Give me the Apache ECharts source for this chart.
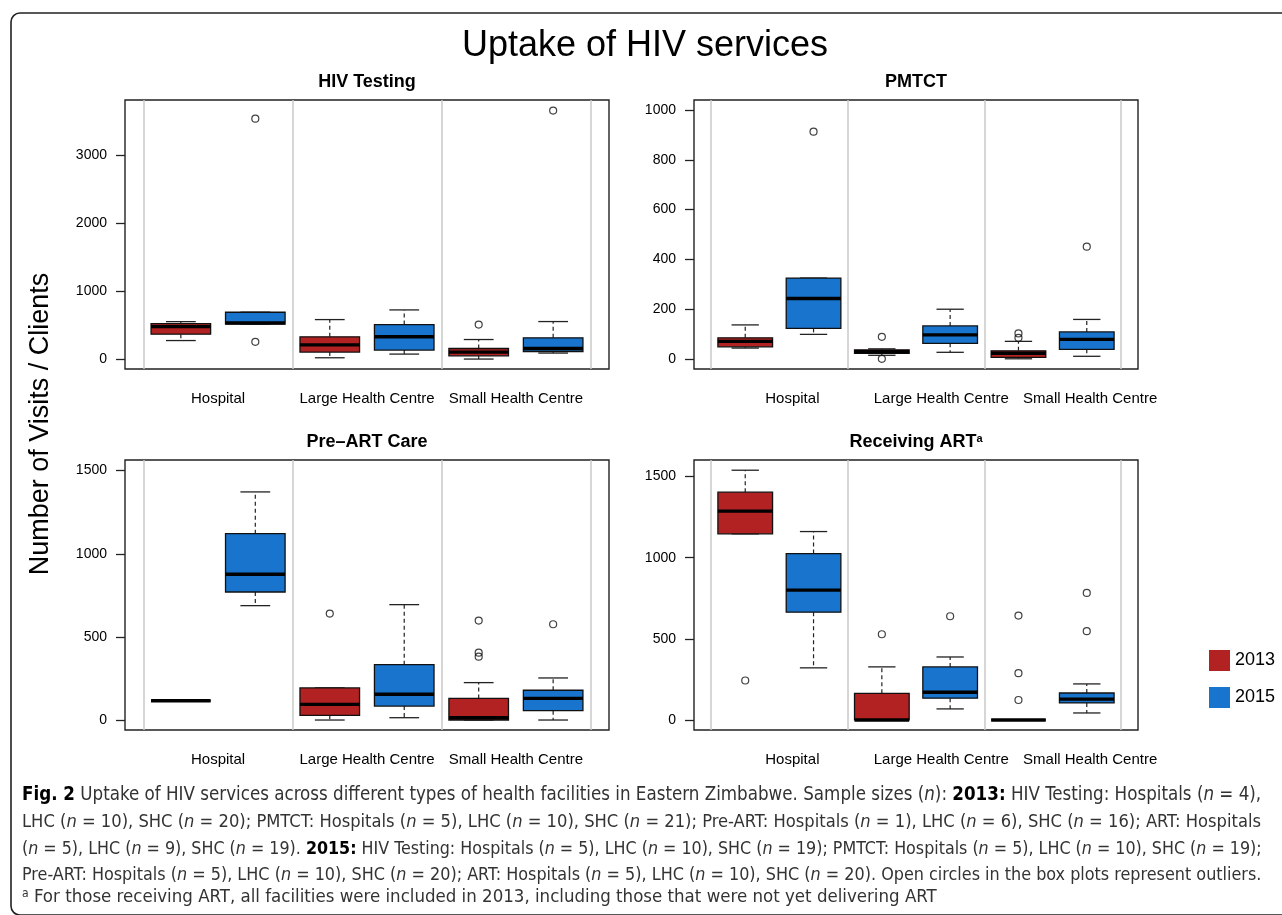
<!DOCTYPE html>
<html><head><meta charset="utf-8">
<script src="https://cdn.jsdelivr.net/npm/echarts@6/dist/echarts.min.js"></script>
<style>html,body{margin:0;padding:0;background:#fff}#c{width:1282px;height:915px}</style>
</head><body><div id="c"></div>
<script>
// ---------------- DATA ----------------
const facilities = ['Hospital', 'Large Health Centre', 'Small Health Centre'];
const years = ['2013', '2015'];
const panelTitles = ['HIV Testing', 'PMTCT', 'Pre\u2013ART Care', 'Receiving ART'];

// each box: [lower whisker, Q1, median, Q3, upper whisker], one per facility
const hivTesting2013 = [[272, 366, 477, 521, 550], [19, 102, 209, 327, 580], [0, 48, 102, 155, 287]];
const hivTesting2015 = [[512, 512, 531, 688, 688], [73, 132, 327, 507, 722], [88, 111, 155, 312, 551]];
const hivTestingOut2013 = [[], [], [507]];
const hivTestingOut2015 = [[3531, 253], [], [3650]];
const hivTestingTicks = [0, 1000, 2000, 3000];

const pmtct2013 = [[44, 49, 71, 85, 137], [15, 23, 29, 37, 41], [1, 7, 23, 33, 71]];
const pmtct2015 = [[99, 123, 243, 325, 325], [27, 63, 97, 133, 200], [11, 39, 79, 109, 159]];
const pmtctOut2013 = [[], [89, 1], [103, 85]];
const pmtctOut2015 = [[913], [], [451]];
const pmtctTicks = [0, 200, 400, 600, 800, 1000];

const preArt2013 = [[116, 116, 116, 116, 116], [0, 28, 94, 193, 193], [0, 0, 14, 130, 225]];
const preArt2015 = [[688, 770, 877, 1121, 1372], [14, 84, 155, 333, 694], [0, 56, 130, 179, 253]];
const preArtOut2013 = [[], [640], [598, 405, 381]];
const preArtOut2015 = [[], [], [576]];
const preArtTicks = [0, 500, 1000, 1500];

const art2013 = [[1147, 1147, 1287, 1404, 1539], [0, 0, 0, 164, 327], [0, 0, 0, 0, 0]];
const art2015 = [[321, 664, 800, 1025, 1161], [68, 134, 171, 327, 388], [43, 105, 128, 166, 222]];
const artOut2013 = [[243], [528], [643, 288, 123]];
const artOut2015 = [[], [639], [783, 547]];
const artTicks = [0, 500, 1000, 1500];

const captionLines = [
  '{b|Fig. 2} Uptake of HIV services across different types of health facilities in Eastern Zimbabwe. Sample sizes ({i|n}): {b|2013:} HIV Testing: Hospitals ({i|n} = 4),',
  'LHC ({i|n} = 10), SHC ({i|n} = 20); PMTCT: Hospitals ({i|n} = 5), LHC ({i|n} = 10), SHC ({i|n} = 21); Pre-ART: Hospitals ({i|n} = 1), LHC ({i|n} = 6), SHC ({i|n} = 16); ART: Hospitals',
  '({i|n} = 5), LHC ({i|n} = 9), SHC ({i|n} = 19). {b|2015:} HIV Testing: Hospitals ({i|n} = 5), LHC ({i|n} = 10), SHC ({i|n} = 19); PMTCT: Hospitals ({i|n} = 5), LHC ({i|n} = 10), SHC ({i|n} = 19);',
  'Pre-ART: Hospitals ({i|n} = 5), LHC ({i|n} = 10), SHC ({i|n} = 20); ART: Hospitals ({i|n} = 5), LHC ({i|n} = 10), SHC ({i|n} = 20). Open circles in the box plots represent outliers.',
  '{s|a} For those receiving ART, all facilities were included in 2013, including those that were not yet delivering ART'
];

// ---------------- STYLE / LAYOUT ----------------
const RED = '#B22222', BLUE = '#1874CD', INK = '#111';
const FONT = "'Liberation Sans', Arial, Helvetica, sans-serif";
const CAPFONT = "'Liberation Sans Narrow', 'DejaVu Sans Condensed', sans-serif";

const panels = [
  { title: panelTitles[0], sup: false, boxes: [hivTesting2013, hivTesting2015], outs: [hivTestingOut2013, hivTestingOut2015], ticks: hivTestingTicks,
    yMin: -146, yMax: 3806, grid: { left: 125, top: 100, width: 484, height: 269 }, labelPos: [1.5, 3.5, 5.5] },
  { title: panelTitles[1], sup: false, boxes: [pmtct2013, pmtct2015], outs: [pmtctOut2013, pmtctOut2015], ticks: pmtctTicks,
    yMin: -40, yMax: 1040, grid: { left: 694, top: 100, width: 444, height: 269 }, labelPos: [1.69, 3.87, 6.05] },
  { title: panelTitles[2], sup: false, boxes: [preArt2013, preArt2015], outs: [preArtOut2013, preArtOut2015], ticks: preArtTicks,
    yMin: -60, yMax: 1564, grid: { left: 125, top: 460, width: 484, height: 270 }, labelPos: [1.5, 3.5, 5.5] },
  { title: panelTitles[3], sup: true, boxes: [art2013, art2015], outs: [artOut2013, artOut2015], ticks: artTicks,
    yMin: -62, yMax: 1602, grid: { left: 694, top: 460, width: 444, height: 270 }, labelPos: [1.69, 3.87, 6.05] }
];
const yearColors = [RED, BLUE];

function makeRender(fill) {
  return function (params, api) {
    const x = api.value(0);
    const pts = [1, 2, 3, 4, 5].map(d => api.coord([x, api.value(d)]));
    const cx = pts[0][0];
    const w = api.size([0.8, 0])[0];
    const yLo = pts[0][1], yQ1 = pts[1][1], yMed = pts[2][1], yQ3 = pts[3][1], yHi = pts[4][1];
    const dash = { stroke: '#222', lineWidth: 1.2, lineDash: [4, 3] };
    const solid = { stroke: '#222', lineWidth: 1.3 };
    return { type: 'group', children: [
      { type: 'line', shape: { x1: cx, y1: yQ3, x2: cx, y2: yHi }, style: dash },
      { type: 'line', shape: { x1: cx, y1: yQ1, x2: cx, y2: yLo }, style: dash },
      { type: 'line', shape: { x1: cx - w / 4, y1: yHi, x2: cx + w / 4, y2: yHi }, style: solid },
      { type: 'line', shape: { x1: cx - w / 4, y1: yLo, x2: cx + w / 4, y2: yLo }, style: solid },
      { type: 'rect', shape: { x: cx - w / 2, y: yQ3, width: w, height: yQ1 - yQ3 }, style: { fill: fill, stroke: INK, lineWidth: 1.3 } },
      { type: 'line', shape: { x1: cx - w / 2, y1: yMed, x2: cx + w / 2, y2: yMed }, style: { stroke: '#000', lineWidth: 3.4 } }
    ] };
  };
}

const grids = [], xAxes = [], yAxes = [], series = [], graphics = [];
panels.forEach((p, i) => {
  grids.push(Object.assign({ show: true, borderColor: '#222', borderWidth: 1.4, backgroundColor: 'transparent', outerBoundsMode: 'none', containLabel: false }, p.grid));
  xAxes.push({
    type: 'value', gridIndex: i, min: 0.25, max: 6.75,
    axisLine: { show: false }, axisTick: { show: false }, splitLine: { show: false },
    axisLabel: {
      customValues: p.labelPos, margin: 22, fontSize: 15, color: '#000', fontFamily: FONT,
      formatter: (v, idx) => { const k = p.labelPos.indexOf(v); return facilities[k >= 0 ? k : idx]; }
    }
  });
  yAxes.push({
    type: 'value', gridIndex: i, min: p.yMin, max: p.yMax,
    axisLine: { show: false }, splitLine: { show: false },
    axisTick: { show: true, inside: false, length: 9, customValues: p.ticks, lineStyle: { color: '#222', width: 1.3 } },
    axisLabel: { customValues: p.ticks, margin: 18, fontSize: 14, color: '#000', fontFamily: FONT, formatter: v => String(v) }
  });
  years.forEach((yr, j) => {
    const s = {
      type: 'custom', name: yr, xAxisIndex: i, yAxisIndex: i,
      itemStyle: { color: yearColors[j] },
      renderItem: makeRender(yearColors[j]),
      encode: { x: 0, y: [1, 2, 3, 4, 5] },
      data: p.boxes[j].map((b, k) => [2 * k + 1 + j].concat(b)),
      z: 3
    };
    if (j === 0) {
      s.markLine = {
        silent: true, symbol: 'none', label: { show: false }, animation: false,
        lineStyle: { color: '#c8c8c8', width: 1.5, type: 'solid' },
        data: [0.5, 2.5, 4.5, 6.5].map(v => ({ xAxis: v })), z: 1
      };
    }
    series.push(s);
    const outData = [];
    p.outs[j].forEach((arr, k) => arr.forEach(v => outData.push([2 * k + 1 + j, v])));
    series.push({
      type: 'scatter', name: yr + ' outliers', xAxisIndex: i, yAxisIndex: i,
      symbol: 'circle', symbolSize: 7,
      itemStyle: { color: 'rgba(255,255,255,0)', borderColor: INK, borderWidth: 1.2 },
      data: outData, z: 4
    });
  });
  const cx = p.grid.left + p.grid.width / 2;
  const cy = p.grid.top - 18;
  graphics.push({
    type: 'text', x: cx, y: cy,
    style: {
      text: p.sup ? '{t|' + p.title + '}{s|a}' : '{t|' + p.title + '}',
      rich: {
        t: { fontSize: 18, fontWeight: 'bold', fontFamily: FONT, fill: '#000', color: '#000' },
        s: { fontSize: 11, fontWeight: 'bold', fontFamily: FONT, fill: '#000', color: '#000', verticalAlign: 'top' }
      },
      align: 'center', verticalAlign: 'middle', textAlign: 'center', textVerticalAlign: 'middle'
    }
  });
});

// main title, y-axis title, frame
graphics.push({ type: 'rect', shape: { x: 11, y: 13, width: 1300, height: 902, r: 9 }, style: { fill: 'none', stroke: '#222', lineWidth: 1.6 }, z: -1 });
graphics.push({ type: 'text', x: 645, y: 46, style: { text: 'Uptake of HIV services', fontSize: 36, fontFamily: FONT, fill: '#000', align: 'center', verticalAlign: 'middle', textAlign: 'center', textVerticalAlign: 'middle' } });
graphics.push({ type: 'text', x: 41, y: 424, rotation: Math.PI / 2, style: { text: 'Number of Visits / Clients', fontSize: 27, fontFamily: FONT, fill: '#000', align: 'center', verticalAlign: 'middle', textAlign: 'center', textVerticalAlign: 'middle' } });

// caption (fit each line's width like the justified reference)
const mctx = document.createElement('canvas').getContext('2d');
function measureRich(str, size) {
  let total = 0; const re = /\{(\w+)\|([^}]*)\}|([^{]+)/g; let m;
  while ((m = re.exec(str))) {
    let pre = '', sz = size, t;
    if (m[1]) { t = m[2]; if (m[1] === 'b') pre = 'bold '; else if (m[1] === 'i') pre = 'italic '; else if (m[1] === 's') sz = size * 0.65; }
    else t = m[3];
    mctx.font = pre + sz + 'px ' + CAPFONT;
    total += mctx.measureText(t).width;
  }
  return total;
}
const capTargets = [1240, 1240, 1240, 1240, 915];
const capY = [795, 822, 849, 875, 897];
captionLines.forEach((line, k) => {
  const base = 17;
  let fs = base * capTargets[k] / measureRich(line, base);
  fs = Math.max(12, Math.min(22, fs));
  graphics.push({
    type: 'text', x: 22, y: capY[k],
    style: {
      text: line,
      rich: {
        b: { fontWeight: 'bold', fontSize: fs, fontFamily: CAPFONT, fill: '#000', color: '#000' },
        i: { fontStyle: 'italic', fontSize: fs, fontFamily: CAPFONT, fill: '#333', color: '#333' },
        s: { fontSize: fs * 0.65, fontFamily: CAPFONT, fill: '#333', color: '#333', verticalAlign: 'top' }
      },
      fontSize: fs, fontFamily: CAPFONT, fill: '#333',
      align: 'left', verticalAlign: 'middle', textAlign: 'left', textVerticalAlign: 'middle'
    }
  });
});

const chart = echarts.init(document.getElementById('c'), null, { renderer: 'canvas' });
chart.setOption({
  animation: false,
  backgroundColor: '#fff',
  grid: grids, xAxis: xAxes, yAxis: yAxes, series: series,
  legend: {
    data: years.map((y, j) => ({ name: y, itemStyle: { color: yearColors[j], borderWidth: 0 } })),
    orient: 'vertical', left: 1209, top: 650, padding: 0,
    itemWidth: 21, itemHeight: 21, itemGap: 16, icon: 'rect', selectedMode: false,
    textStyle: { fontSize: 18, color: '#000', fontFamily: FONT }
  },
  graphic: graphics
});
</script></body></html>
